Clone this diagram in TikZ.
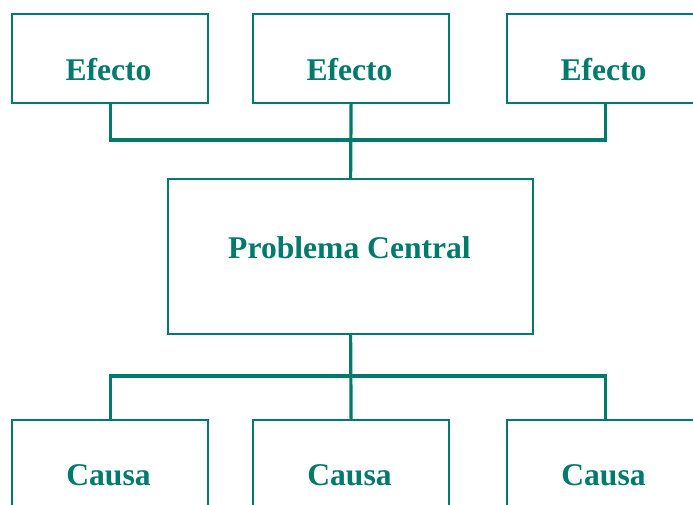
\documentclass[tikz,border=0pt]{standalone}
\usepackage{fontspec}
\setmainfont{Liberation Serif}
\definecolor{teal1}{RGB}{0,122,106}
\begin{document}
\begin{tikzpicture}[x=1pt,y=-1pt,
  box/.style={draw=teal1,line width=2.2pt,minimum width=196pt,minimum height=89pt,inner sep=0pt,anchor=north west},
  cbox/.style={draw=teal1,line width=2.2pt,minimum width=365pt,minimum height=155pt,inner sep=0pt,anchor=north west},
  lbl/.style={text=teal1,font=\fontsize{31.6}{32}\selectfont\bfseries,inner sep=0pt},
  conn/.style={draw=teal1,line width=3.2pt}]
\useasboundingbox (0,0) rectangle (693,504);
\clip (0,0) rectangle (693,504);
% top
\node[box] (e1) at (11,13) {};
\node[box] (e2) at (252,13) {};
\node[box] (e3) at (506,13) {};
\node[lbl] (t1) at (108.5,69.5) {Efecto};
\node[lbl] (t2) at (349.5,69.5) {Efecto};
\node[lbl] (t3) at (603.5,69.5) {Efecto};
% center
\node[cbox] (pc) at (167,178) {};
\node[lbl] (tp) at (349.5,247.5) {Problema Central};
% bottom
\node[box] (c1) at (11,419) {};
\node[box] (c2) at (252,419) {};
\node[box] (c3) at (506,419) {};
\node[lbl] (tc1) at (108.5,475.5) {Causa};
\node[lbl] (tc2) at (349.5,475.5) {Causa};
\node[lbl] (tc3) at (603.5,475.5) {Causa};
% connectors
\coordinate (jt) at (349.5,140);
\coordinate (jb) at (349.5,376);
\draw[conn] (e1.south) |- (jt) -| (e3.south);
\draw[conn] (e2.south) -- (pc.north);
\draw[conn] (c1.north) |- (jb) -| (c3.north);
\draw[conn] (c2.north) -- (pc.south);
\end{tikzpicture}
\end{document}
